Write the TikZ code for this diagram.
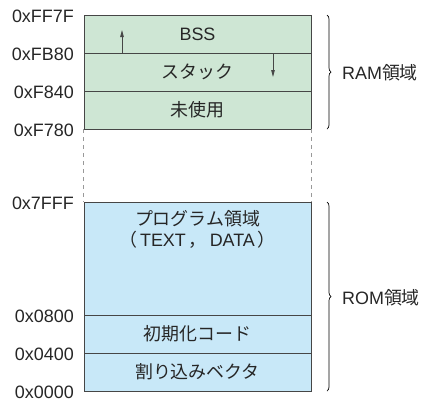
\documentclass[tikz,border=0pt]{standalone}
\usepackage{fontspec}
\setmainfont{Liberation Sans}
\newfontfamily\jp{Noto Sans CJK JP}
\usetikzlibrary{decorations.pathreplacing,arrows.meta,calc}

\definecolor{ramfill}{RGB}{206,230,212}
\definecolor{romfill}{RGB}{200,232,248}
\definecolor{edge}{RGB}{70,70,70}

\begin{document}
\begin{tikzpicture}[x=1bp,y=-1bp,
  font=\fontsize{18}{21}\selectfont,
  row/.style={draw=edge, line width=0.8bp, rectangle, inner sep=0pt,
              minimum width=227bp, text=black!85},
  ramrow/.style={row, fill=ramfill},
  romrow/.style={row, fill=romfill},
  addr/.style={anchor=east, inner sep=0pt, text=black!85},
  region/.style={anchor=west, inner sep=0pt, text=black!85},
  bracket/.style={decorate, decoration={brace, amplitude=4bp}, line width=0.7bp},
  growth/.style={-{Triangle[length=7bp,width=3.5bp]}, line width=0.8bp, draw=edge},
  gap/.style={draw=gray!80, line width=0.8bp, dash pattern=on 4bp off 4bp}]

\useasboundingbox (0,0) rectangle (425,403);

% RAM rows
\node[ramrow, minimum height=38bp] (bss) at (197.5,34) {BSS};
\node[ramrow, minimum height=38bp] (stack) at (197.5,72) {{\jp スタック}};
\node[ramrow, minimum height=38bp] (unused) at (197.5,110) {{\jp 未使用}};

% ROM rows
\node[romrow, minimum height=113bp] (prog) at (197.5,258.5) {};
\node[inner sep=0pt, align=center, text=black!85] (progtext) at (197.5,229)
  {{\jp プログラム領域}\\[0bp]{\jp （}\,TEXT\,{\jp ，}\,DATA\,{\jp ）}};
\node[romrow, minimum height=38bp] (init) at (197.5,334) {{\jp 初期化コード}};
\node[romrow, minimum height=38bp] (vec) at (197.5,372) {{\jp 割り込みベクタ}};

% omitted address range
\draw[gap] (unused.south west) -- (prog.north west);
\draw[gap] (unused.south east) -- (prog.north east);

% growth directions
\coordinate (bssbase) at (122,53);
\coordinate (bsstip) at (122,30);
\coordinate (stkbase) at (273,53);
\coordinate (stktip) at (273,77);
\draw[growth] (bssbase) -- (bsstip);
\draw[growth] (stkbase) -- (stktip);

% addresses
\node[addr] (a1) at (74,16) {0xFF7F};
\node[addr] (a2) at (74,54) {0xFB80};
\node[addr] (a3) at (74,92) {0xF840};
\node[addr] (a4) at (74,130) {0xF780};
\node[addr] (a5) at (74,203) {0x7FFF};
\node[addr] (a6) at (74,316) {0x0800};
\node[addr] (a7) at (74,354) {0x0400};
\node[addr] (a8) at (74,392) {0x0000};

% region braces
\coordinate (ramtop) at (327,15);
\coordinate (rambot) at (327,129);
\coordinate (romtop) at (327,202);
\coordinate (rombot) at (327,391);
\draw[bracket] (ramtop) -- (rambot);
\draw[bracket] (romtop) -- (rombot);
\node[region] (ram) at (342,73) {RAM{\jp 領域}};
\node[region] (rom) at (342,298) {ROM{\jp 領域}};

\end{tikzpicture}
\end{document}
